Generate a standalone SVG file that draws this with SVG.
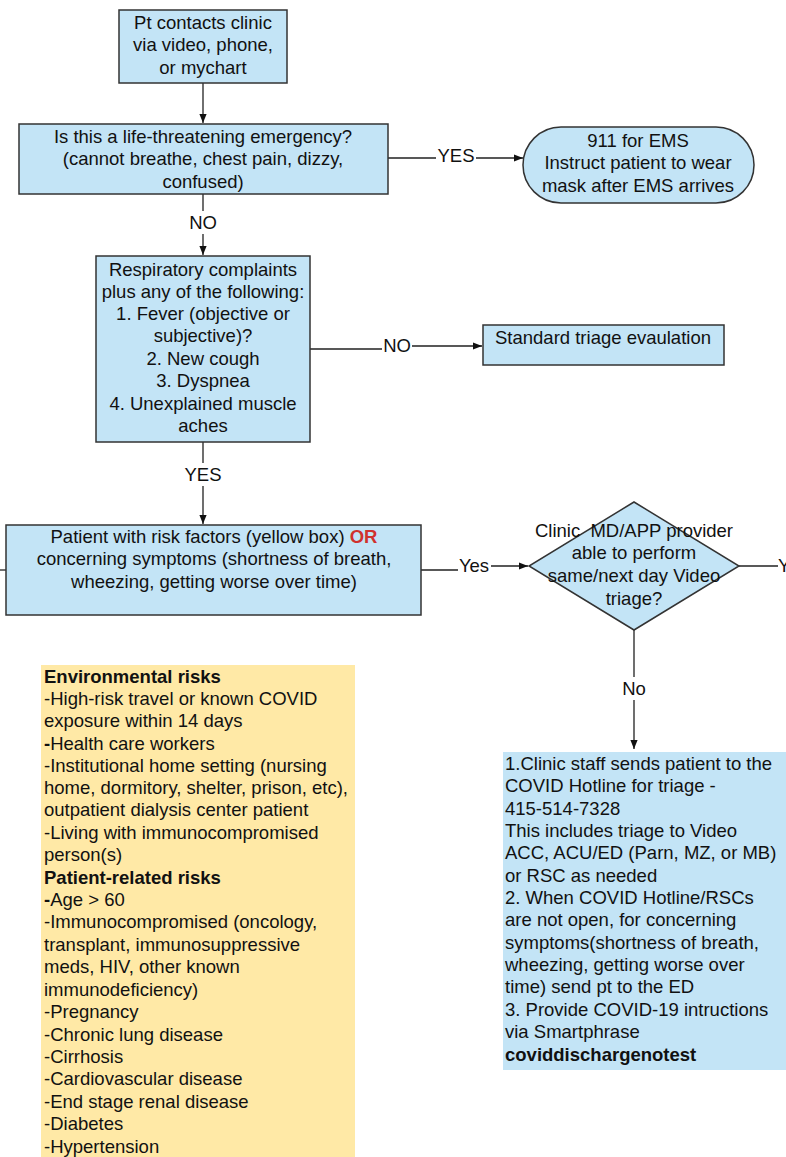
<svg xmlns="http://www.w3.org/2000/svg" width="786" height="1157" viewBox="0 0 786 1157">
<style>
text{font-family:"Liberation Sans",Arial,sans-serif;font-size:18.5px;fill:#111}
.c{text-anchor:middle}
.b{font-weight:bold}
.box{fill:#c3e4f6;stroke:#333;stroke-width:1.5}
.ln{fill:none;stroke:#222;stroke-width:1.3}
</style>
<defs>
<marker id="ah" viewBox="0 0 10 10" refX="10" refY="5" markerWidth="9" markerHeight="9" markerUnits="userSpaceOnUse" orient="auto">
<path d="M0,1 L10,5 L0,9 z" fill="#111"/>
</marker>
</defs>
<rect width="786" height="1157" fill="#fff"/>
<g id="connectors">
<path class="ln" d="M203,83 V123" marker-end="url(#ah)"/>
<path class="ln" d="M388,158 H436 M476,158 H523" marker-end="url(#ah)"/>
<path class="ln" d="M203,194 V211 M203,234 V255" marker-end="url(#ah)"/>
<path class="ln" d="M310,349 H382 M412,346 H482" marker-end="url(#ah)"/>
<path class="ln" d="M203,442 V463 M203,486 V524" marker-end="url(#ah)"/>
<path class="ln" d="M421,570 H458 M491,566 H528" marker-end="url(#ah)"/>
<path class="ln" d="M0,570 H6"/>
<path class="ln" d="M739,566 H778"/>
<path class="ln" d="M634,630 V677 M634,700 V749" marker-end="url(#ah)"/>
<text class="c" x="456" y="162">YES</text>
<text class="c" x="203" y="229">NO</text>
<text class="c" x="397" y="352">NO</text>
<text class="c" x="203" y="481">YES</text>
<text class="c" x="474" y="572">Yes</text>
<text x="778" y="572">Yes</text>
<text class="c" x="634" y="695">No</text>
</g>
<g id="n1">
<rect class="box" x="119" y="10" width="168" height="73"/>
<text class="c" x="203" y="29">Pt contacts clinic</text>
<text class="c" x="203" y="51">via video, phone,</text>
<text class="c" x="203" y="74">or mychart</text>
</g>
<g id="n2">
<rect class="box" x="19" y="124" width="369" height="70"/>
<text class="c" x="203" y="143">Is this a life-threatening emergency?</text>
<text class="c" x="203" y="165">(cannot breathe, chest pain, dizzy,</text>
<text class="c" x="203" y="188">confused)</text>
</g>
<g id="n3">
<rect class="box" x="523" y="127" width="231" height="76" rx="38" ry="38"/>
<text class="c" x="638" y="147">911 for EMS</text>
<text class="c" x="638" y="169">Instruct patient to wear</text>
<text class="c" x="638" y="192">mask after EMS arrives</text>
</g>
<g id="n4">
<rect class="box" x="96" y="256" width="214" height="186"/>
<text class="c" x="203" y="276">Respiratory complaints</text>
<text class="c" x="203" y="298">plus any of the following:</text>
<text class="c" x="203" y="320">1. Fever (objective or</text>
<text class="c" x="203" y="342">subjective)?</text>
<text class="c" x="203" y="365">2. New cough</text>
<text class="c" x="203" y="387">3. Dyspnea</text>
<text class="c" x="203" y="410">4. Unexplained muscle</text>
<text class="c" x="203" y="432">aches</text>
</g>
<g id="n5">
<rect class="box" x="483" y="325" width="241" height="40"/>
<text class="c" x="603" y="344">Standard triage evaulation</text>
</g>
<g id="n6">
<rect class="box" x="6" y="525" width="415" height="90"/>
<text class="c" x="214" y="543">Patient with risk factors (yellow box) <tspan class="b" style="fill:#d0312d">OR</tspan></text>
<text class="c" x="214" y="565">concerning symptoms (shortness of breath,</text>
<text class="c" x="214" y="588">wheezing, getting worse over time)</text>
</g>
<g id="n7">
<path class="box" d="M634,502 L739,566 L634,630 L529,566 Z"/>
<text class="c" x="634" y="537" xml:space="preserve">Clinic  MD/APP provider</text>
<text class="c" x="634" y="559">able to perform</text>
<text class="c" x="634" y="582">same/next day Video</text>
<text class="c" x="634" y="605">triage?</text>
</g>
<g id="n8">
<rect x="503" y="752" width="283" height="318" fill="#c3e4f6"/>
<text x="505" y="770">1.Clinic staff sends patient to the</text>
<text x="505" y="792">COVID Hotline for triage -</text>
<text x="505" y="815">415-514-7328</text>
<text x="505" y="837">This includes triage to Video</text>
<text x="505" y="859">ACC, ACU/ED (Parn, MZ, or MB)</text>
<text x="505" y="882">or RSC as needed</text>
<text x="505" y="904">2. When COVID Hotline/RSCs</text>
<text x="505" y="926">are not open, for concerning</text>
<text x="505" y="949">symptoms(shortness of breath,</text>
<text x="505" y="971">wheezing, getting worse over</text>
<text x="505" y="993">time) send pt to the ED</text>
<text x="505" y="1016">3. Provide COVID-19 intructions</text>
<text x="505" y="1038">via Smartphrase</text>
<text x="505" y="1061" class="b">coviddischargenotest</text>
</g>
<g id="n9">
<rect x="41" y="665" width="314" height="492" fill="#ffe9a6"/>
<text x="44" y="683" class="b">Environmental risks</text>
<text x="44" y="705">-High-risk travel or known COVID</text>
<text x="44" y="727">exposure within 14 days</text>
<text x="44" y="750"><tspan class="b">-</tspan>Health care workers</text>
<text x="44" y="772">-Institutional home setting (nursing</text>
<text x="44" y="794">home, dormitory, shelter, prison, etc),</text>
<text x="44" y="816">outpatient dialysis center patient</text>
<text x="44" y="839">-Living with immunocompromised</text>
<text x="44" y="861">person(s)</text>
<text x="44" y="884" class="b">Patient-related risks</text>
<text x="44" y="906"><tspan class="b">-</tspan>Age &gt; 60</text>
<text x="44" y="928">-Immunocompromised (oncology,</text>
<text x="44" y="951">transplant, immunosuppressive</text>
<text x="44" y="973">meds, HIV, other known</text>
<text x="44" y="996">immunodeficiency)</text>
<text x="44" y="1018">-Pregnancy</text>
<text x="44" y="1041">-Chronic lung disease</text>
<text x="44" y="1063">-Cirrhosis</text>
<text x="44" y="1085">-Cardiovascular disease</text>
<text x="44" y="1108">-End stage renal disease</text>
<text x="44" y="1130">-Diabetes</text>
<text x="44" y="1153">-Hypertension</text>
</g>
</svg>
